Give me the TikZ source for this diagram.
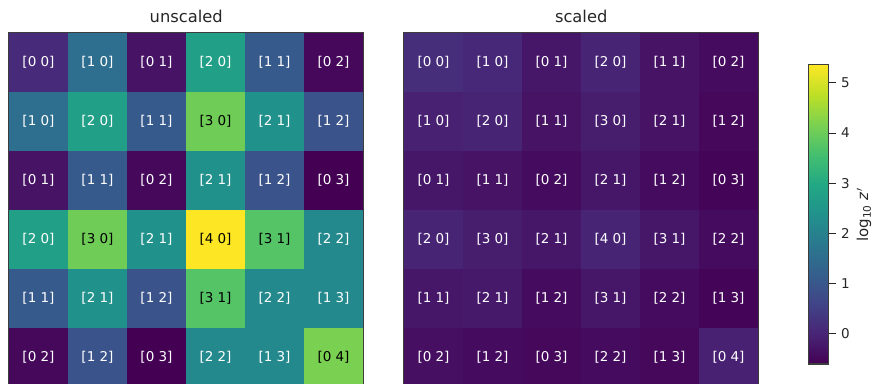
\documentclass[tikz,border=0pt]{standalone}
\usepackage{fontspec}
\setmainfont{DejaVu Sans}
\usepackage{tikz}
\usetikzlibrary{positioning}

% viridis stops
\definecolor{vir0}{HTML}{440154}
\definecolor{vir1}{HTML}{482475}
\definecolor{vir2}{HTML}{414487}
\definecolor{vir3}{HTML}{355F8D}
\definecolor{vir4}{HTML}{2A788E}
\definecolor{vir5}{HTML}{21918C}
\definecolor{vir6}{HTML}{22A884}
\definecolor{vir7}{HTML}{44BF70}
\definecolor{vir8}{HTML}{7AD151}
\definecolor{vir9}{HTML}{BDDF26}
\definecolor{vir10}{HTML}{FDE725}
\definecolor{axisgray}{HTML}{262626}
\definecolor{spinegray}{HTML}{3D3D3D}

\pgfdeclareverticalshading{viridis}{100bp}{color(0bp)=(vir0); color(25bp)=(vir0);
  color(30bp)=(vir1); color(35bp)=(vir2); color(40bp)=(vir3); color(45bp)=(vir4);
  color(50bp)=(vir5); color(55bp)=(vir6); color(60bp)=(vir7); color(65bp)=(vir8);
  color(70bp)=(vir9); color(75bp)=(vir10); color(100bp)=(vir10)}

% fill and text colour of a cell from its value (0..100)
\newcommand\setcell[1]{%
  \pgfmathtruncatemacro\vseg{min(floor(#1/10),9)}%
  \pgfmathtruncatemacro\vpct{100-10*(#1-10*\vseg)}%
  \pgfmathtruncatemacro\vnext{\vseg+1}%
  \colorlet{cellfill}{vir\vseg!\vpct!vir\vnext}%
  \ifnum#1>60 \colorlet{celltext}{black}\else\colorlet{celltext}{white}\fi}

\begin{document}
\begin{tikzpicture}[x=1pt,y=1pt,
    cell/.style={minimum size=59pt,inner sep=0pt,fill=cellfill,text=celltext,
                 font=\fontsize{13.5}{16}\selectfont},
    heading/.style={text=axisgray,font=\fontsize{16.3}{19}\selectfont},
    ticklabel/.style={text=axisgray,font=\fontsize{13.5}{16}\selectfont}]

\useasboundingbox (0,0) rectangle (873,383);

% unscaled map
\foreach \row [count=\r] in {
    {0 0/12,1 0/36,0 1/5,2 0/56,1 1/28,0 2/2},
    {1 0/36,2 0/56,1 1/28,3 0/78,2 1/50,1 2/26},
    {0 1/5,1 1/28,0 2/2,2 1/50,1 2/26,0 3/0},
    {2 0/56,3 0/78,2 1/50,4 0/100,3 1/73,2 2/47},
    {1 1/28,2 1/50,1 2/26,3 1/73,2 2/47,1 3/47},
    {0 2/2,1 2/26,0 3/0,2 2/47,1 3/47,0 4/80}}
  \foreach \lab/\val [count=\c] in \row {
    \setcell{\val}
    \node[cell] (u-\r-\c) at ({9+(\c-0.5)*59},{350-(\r-0.5)*59}) {[\lab]};
  }

% scaled map
\foreach \row [count=\r] in {
    {0 0/13,1 0/11,0 1/6,2 0/10,1 1/5,0 2/3},
    {1 0/9,2 0/10,1 1/5,3 0/8,2 1/5,1 2/2},
    {0 1/6,1 1/5,0 2/3,2 1/6,1 2/3,0 3/1},
    {2 0/10,3 0/8,2 1/6,4 0/10,3 1/6,2 2/3},
    {1 1/6,2 1/7,1 2/3,3 1/6,2 2/3,1 3/1},
    {0 2/4,1 2/3,0 3/2,2 2/3,1 3/2,0 4/9}}
  \foreach \lab/\val [count=\c] in \row {
    \setcell{\val}
    \node[cell] (s-\r-\c) at ({404+(\c-0.5)*59},{350-(\r-0.5)*59}) {[\lab]};
  }

\draw[spinegray,line width=1pt] (u-1-1.north west) rectangle (u-6-6.south east);
\draw[spinegray,line width=1pt] (s-1-1.north west) rectangle (s-6-6.south east);

\node[heading,above=6.5pt of u-1-3.north east] (title-u) {unscaled};
\node[heading,above=6.5pt of s-1-3.north east] (title-s) {scaled};

% colour bar
\node[shading=viridis,draw=spinegray,line width=1pt,inner sep=0pt,
      minimum width=20pt,minimum height=299pt] (cbar) at (818,168.5) {};
\foreach \v in {0,...,5}
  \draw[axisgray,line width=0.8pt] (cbar.south east) ++(0,{30.7+50.2*\v}) -- ++(7,0)
    node[ticklabel,right=2pt] {\v};
\node[heading,rotate=90,inner sep=1pt,font=\fontsize{15}{18}\selectfont] (cbar-label) at (864,168)
  {log\textsubscript{10} \textit{z}$'$};
\end{tikzpicture}
\end{document}
